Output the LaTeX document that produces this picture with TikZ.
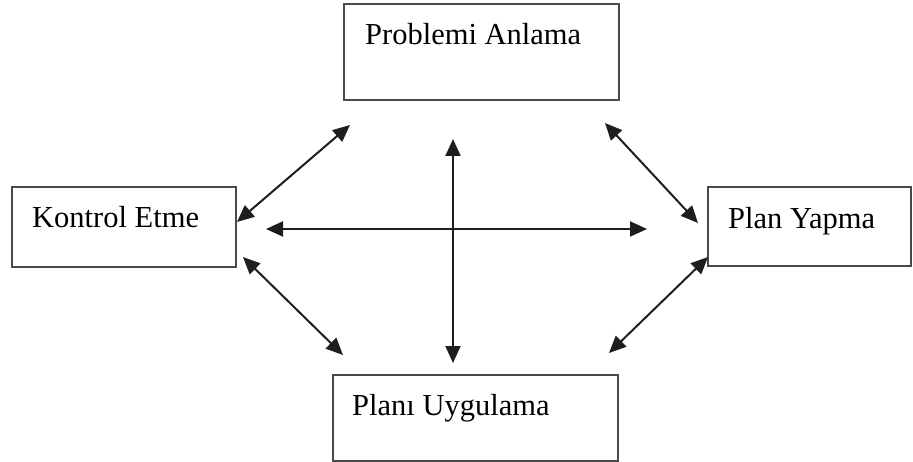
\documentclass[tikz,border=0pt]{standalone}
\usepackage{fontspec}
\setmainfont{Liberation Serif}
\usetikzlibrary{arrows.meta}
\definecolor{boxline}{HTML}{4A4A4A}
\definecolor{arrowline}{HTML}{1E1E1E}
\tikzset{
  stagebox/.style={draw=boxline, line width=1.5pt, rectangle, inner sep=0pt, fill=white},
  stagetext/.style={inner sep=0pt, anchor=base west, font=\fontsize{30.5}{34}\selectfont, text=black},
  link/.style={draw=arrowline, line width=2pt, {Triangle[length=17pt,width=15pt]}-{Triangle[length=17pt,width=15pt]}}
}
\begin{document}
\begin{tikzpicture}[x=1pt,y=-1pt]
\useasboundingbox (0,0) rectangle (913,462);
% boxes
\node[stagebox, minimum width=275pt, minimum height=96pt] (top) at (481.5,52) {};
\node[stagebox, minimum width=224pt, minimum height=80pt] (left) at (124,227) {};
\node[stagebox, minimum width=203pt, minimum height=79pt] (right) at (809.5,226.5) {};
\node[stagebox, minimum width=285pt, minimum height=86pt] (bottom) at (475.5,418) {};
% texts
\node[stagetext] (ttop) at (365,45) {Problemi Anlama};
\node[stagetext] (tleft) at (32,228) {Kontrol Etme};
\node[stagetext] (tright) at (728,229) {Plan Yapma};
\node[stagetext] (tbottom) at (352,415) {Planı Uygulama};
% arrow end points
\coordinate (tl1) at (350,125);
\coordinate (tl2) at (237,222);
\coordinate (tr1) at (605,123);
\coordinate (tr2) at (698,223);
\coordinate (bl1) at (243,257);
\coordinate (bl2) at (343,355);
\coordinate (br1) at (708,257);
\coordinate (br2) at (609,353);
\coordinate (h1) at (266,229);
\coordinate (h2) at (647,229);
\coordinate (v1) at (453,139);
\coordinate (v2) at (453,363);
% arrows
\draw[link] (tl2) -- (tl1);
\draw[link] (tr1) -- (tr2);
\draw[link] (bl1) -- (bl2);
\draw[link] (br2) -- (br1);
\draw[link] (h1) -- (h2);
\draw[link] (v1) -- (v2);
\end{tikzpicture}
\end{document}
